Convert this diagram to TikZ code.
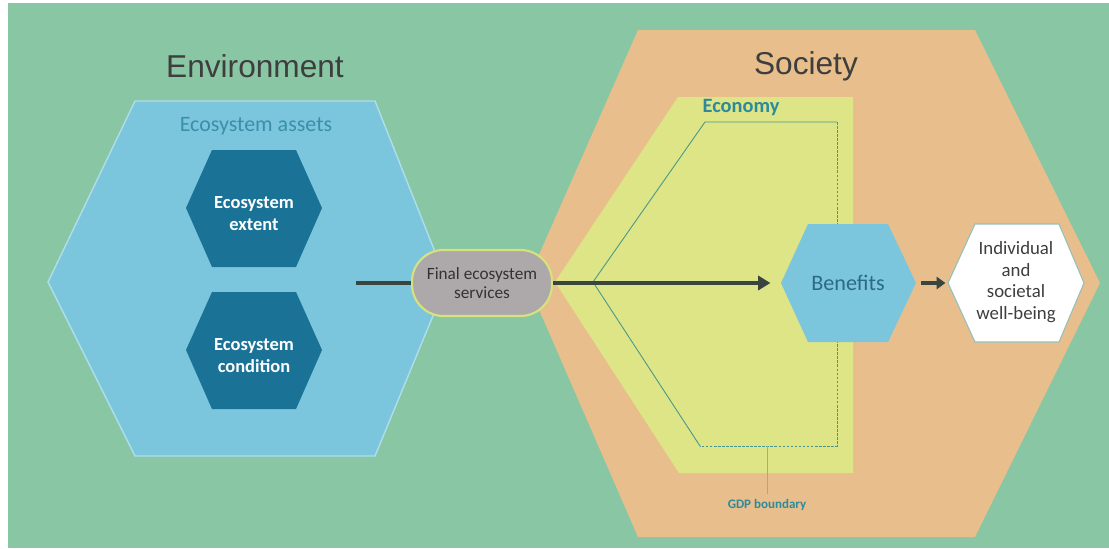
\documentclass[tikz,border=0pt]{standalone}
\usepackage{fontspec}
\setmainfont{Carlito}
\newfontfamily\headfont{Liberation Sans}
\usetikzlibrary{arrows.meta}
\definecolor{bggreen}{HTML}{89C6A3}
\definecolor{lightblue}{HTML}{7CC6DD}
\definecolor{darkblue}{HTML}{1A7396}
\definecolor{societyor}{HTML}{E8BF8C}
\definecolor{econyel}{HTML}{DDE586}
\definecolor{pillgray}{HTML}{ADA9AA}
\definecolor{pillrim}{HTML}{D8E27D}
\definecolor{headgray}{HTML}{3E3E3E}
\definecolor{assetteal}{HTML}{3A8FAA}
\definecolor{econteal}{HTML}{2E8A9A}
\definecolor{arrowdark}{HTML}{3A4540}
\definecolor{bentext}{HTML}{2B6A86}
\definecolor{gdpline}{HTML}{4A968A}
\begin{document}
\begin{tikzpicture}[x=0.02cm,y=-0.02cm,
  heading/.style={font=\headfont\fontsize{18}{20}\selectfont, text=headgray, inner sep=0pt},
  darklabel/.style={font=\bfseries\fontsize{10.5}{12.5}\selectfont, text=white, align=center, inner sep=0pt},
  pill/.style={fill=pillgray, draw=pillrim, line width=1.2pt, rounded corners=18pt,
    minimum width=79.7pt, minimum height=37.6pt, inner sep=0pt, align=center,
    font=\fontsize{9.8}{11}\selectfont, text=black!80},
  flow/.style={draw=arrowdark, line width=2.4pt},
  tip/.style={-{Triangle[length=7pt,width=8pt]}}
]
\useasboundingbox (0,0) rectangle (1109,548);
\fill[white] (0,0) rectangle (1109,548);
\fill[bggreen] (8,3) rectangle (1109,548);

% Environment hexagon
\fill[lightblue, draw=lightblue!60!white, line width=0.8pt]
  (135,101) -- (375,101) -- (447,282) -- (375,456) -- (135,456) -- (48,282) -- cycle;

% Society hexagon
\fill[societyor] (638,30) -- (975,30) -- (1100,283) -- (975,537) -- (638,537) -- (527,282) -- cycle;

% Economy
\fill[econyel] (678,97) -- (853,97) -- (853,473) -- (679,473) -- (555,282) -- cycle;

% GDP boundary
\draw[gdpline, line width=0.5pt] (837,122) -- (705,122) -- (593,282) -- (700,446);
\draw[gdpline, line width=0.5pt, dash pattern=on 1.5pt off 0.8pt] (837,122) -- (837,446) -- (700,446);

% Dark hexagons
\fill[darkblue] (212,150) -- (296,150) -- (322,208) -- (296,267) -- (212,267) -- (186,208) -- cycle;
\fill[darkblue] (212,292) -- (296,292) -- (322,350) -- (296,409) -- (212,409) -- (186,350) -- cycle;

% Benefits hexagon
\fill[lightblue] (808,224) -- (888,224) -- (916,283) -- (888,342) -- (808,342) -- (781,283) -- cycle;

% Well-being hexagon
\filldraw[fill=white, draw=gdpline!60!white, line width=0.6pt]
  (975,224) -- (1059,224) -- (1084,283) -- (1059,342) -- (975,342) -- (948,283) -- cycle;

% coordinates
\coordinate (src) at (356,283);
\coordinate (benW) at (781,283);
\coordinate (benE) at (916,283);
\coordinate (wellW) at (948,283);
\coordinate (gdpB) at (767,446);

% texts
\node[heading] (envt) at (255,66) {Environment};
\node[heading] (soct) at (806,66) {Society};
\node[font=\fontsize{12.5}{14}\selectfont, text=assetteal, inner sep=0pt] (assets) at (256,126) {Ecosystem assets};
\node[font=\bfseries\fontsize{11.6}{14}\selectfont, text=econteal, inner sep=0pt] (economy) at (741,107) {Economy};
\node[darklabel] (extent) at (254,214) {Ecosystem\\extent};
\node[darklabel] (condition) at (254,356) {Ecosystem\\condition};
\node[font=\fontsize{12.6}{14}\selectfont, text=bentext, inner sep=0pt] (ben) at (848,283) {Benefits};
\node[font=\fontsize{10.7}{12.2}\selectfont, text=headgray, align=center, inner sep=0pt] (well) at (1016,282) {Individual\\and\\societal\\well-being};
\node[font=\bfseries\fontsize{7.4}{8}\selectfont, text=econteal, inner sep=0pt] (gdp) at (767,505) {GDP boundary};
\draw[gray!70, line width=0.5pt] (gdpB) -- ([yshift=3pt]gdp.north);

% connectors
\node[pill] (fes) at (482,283) {Final ecosystem\\services};
\draw[flow] (src) -- (fes.west);
\draw[flow, tip] (fes.east) -- ([xshift=-6pt]benW);
\draw[draw=arrowdark, line width=1.8pt, -{Triangle[length=5pt,width=7pt]}] ([xshift=3pt]benE) -- ([xshift=-1.5pt]wellW);
\end{tikzpicture}
\end{document}
